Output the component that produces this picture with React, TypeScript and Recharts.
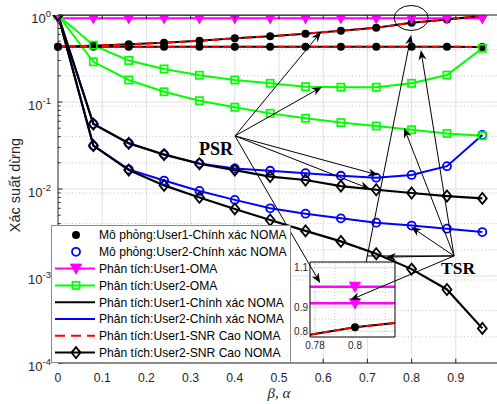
import React from 'react';
import { LineChart, Line, XAxis, YAxis, CartesianGrid, ReferenceLine, ReferenceDot } from 'recharts';

// beta / alpha
const xVals = [0, 0.08, 0.16, 0.24, 0.32, 0.4, 0.48, 0.56, 0.64, 0.72, 0.8, 0.88, 0.96];

// user 1 NOMA (exact and high-SNR coincide)
const nomaU1Psr = [0.432, 0.444, 0.46, 0.48, 0.506, 0.54, 0.57, 0.61, 0.66, 0.715, 0.816, 0.89, 0.98];
const nomaU1Tsr = [0.432, 0.432, 0.432, 0.432, 0.432, 0.432, 0.432, 0.432, 0.432, 0.432, 0.432, 0.432, 0.428];
// user 2 NOMA exact
const exactU2Psr = [1, 0.056, 0.0335, 0.025, 0.0197, 0.0172, 0.0162, 0.0152, 0.0142, 0.0135, 0.0145, 0.0183, 0.0418];
const exactU2Tsr = [1, 0.0315, 0.0168, 0.0125, 0.0095, 0.0075, 0.006, 0.0052, 0.0046, 0.0041, 0.0038, 0.0035, 0.0032];
// user 2 NOMA high SNR
const hiU2Psr = [1, 0.0558, 0.0335, 0.0248, 0.0195, 0.0165, 0.0139, 0.0127, 0.0108, 0.0098, 0.009, 0.0083, 0.0078];
const hiU2Tsr = [1, 0.0315, 0.0165, 0.011, 0.008, 0.0059, 0.0044, 0.0033, 0.0025, 0.0018, 0.0012, 0.0007, 0.00025];
// OMA
const omaU1Psr = [1, 1, 1, 1, 1, 1, 1, 1, 1, 1, 1, 1, 1];
const omaU1Tsr = [0.92, 0.92, 0.92, 0.92, 0.92, 0.92, 0.92, 0.92, 0.92, 0.92, 0.92, 0.92, 0.92];
const omaU2Psr = [1, 0.45, 0.3, 0.24, 0.203, 0.179, 0.164, 0.15, 0.148, 0.148, 0.164, 0.204, 0.414];
const omaU2Tsr = [1, 0.29, 0.179, 0.131, 0.1035, 0.087, 0.074, 0.065, 0.058, 0.053, 0.048, 0.0435, 0.041];

const xTicks = [0, 0.1, 0.2, 0.3, 0.4, 0.5, 0.6, 0.7, 0.8, 0.9, 1];
const yTicks = [1e-4, 1e-3, 1e-2, 1e-1, 1];
const yMinor = [1e-4, 1e-3, 1e-2, 1e-1].flatMap((d) => [2, 3, 4, 5, 6, 7, 8, 9].map((m) => m * d));

const insetXTicks = [0.78, 0.8];
const insetYTicks = [0.8, 0.9, 1, 1.1];

// annotation anchors (data coords)
const psrOrigin = { x: 0.4005, y: 0.0407 };
const psrTargets = [
  { x: 0.595, y: 0.638 },
  { x: 0.597, y: 0.149 },
  { x: 0.724, y: 0.0145 },
  { x: 0.706, y: 0.01 },
  { x: 0.593, y: 0.00083 },
];
const tsrOrigin = { x: 0.896, y: 0.0017 };
const tsrTargets = [
  { x: 0.821, y: 0.396 },
  { x: 0.783, y: 0.0503 },
  { x: 0.799, y: 0.00366 },
  { x: 0.742, y: 0.00165 },
  { x: 0.661, y: 0.00053 },
];

const rows = xVals.map((x, i) => ({
  x,
  u1Psr: nomaU1Psr[i],
  u1Tsr: nomaU1Tsr[i],
  u2Psr: exactU2Psr[i],
  u2Tsr: exactU2Tsr[i],
  hi2Psr: hiU2Psr[i],
  hi2Tsr: hiU2Tsr[i],
  oma1Psr: omaU1Psr[i],
  oma1Tsr: omaU1Tsr[i],
  oma2Psr: omaU2Psr[i],
  oma2Tsr: omaU2Tsr[i],
}));

const MAG = '#ff00ff';
const GRN = '#00ff00';
const BLU = '#0000ff';
const RED = '#ff0000';
const AX = '#262626';

type Mk = 'dot' | 'circle' | 'tri' | 'square' | 'diamond';

const marker = (kind: Mk, cx: number, cy: number, color: string, key?: string) => {
  switch (kind) {
    case 'dot':
      return <circle key={key} cx={cx} cy={cy} r={4} fill="#000" />;
    case 'circle':
      return <circle key={key} cx={cx} cy={cy} r={4} fill="none" stroke={color} strokeWidth={1.8} />;
    case 'tri':
      return <path key={key} d={`M${cx - 5.5},${cy - 4.5}L${cx + 5.5},${cy - 4.5}L${cx},${cy + 5.5}Z`} fill={color} stroke={color} strokeWidth={1} />;
    case 'square':
      return <rect key={key} x={cx - 3.6} y={cy - 3.6} width={7.2} height={7.2} fill="none" stroke={color} strokeWidth={1.7} />;
    case 'diamond':
      return <path key={key} d={`M${cx},${cy - 5.5}L${cx + 4.5},${cy}L${cx},${cy + 5.5}L${cx - 4.5},${cy}Z`} fill="none" stroke="#000" strokeWidth={1.8} />;
  }
  return null;
};

const dotOf = (kind: Mk, color: string) => (p: any) => {
  if (p.cx == null || p.cy == null) return <g key={`e-${p.index}`} />;
  return marker(kind, p.cx, p.cy, color, `m-${p.index}`);
};

const base = { type: 'linear' as const, isAnimationActive: false, activeDot: false, legendType: 'none' as const };

const YPowTick = (p: any) => {
  const e = Math.round(Math.log10(p.payload.value));
  return (
    <text x={p.x - 7} y={p.y + 7.5} textAnchor="end" fill={AX} fontSize={13}>
      10<tspan dy={-6} fontSize={9.5}>{e}</tspan>
    </text>
  );
};

const XNumTick = (p: any) => (
  <text x={p.x} y={p.y + 18.5} textAnchor="middle" fill={AX} fontSize={12.2}>
    {p.payload.value}
  </text>
);

const MainChart = () => (
  <LineChart width={510} height={404} data={rows} margin={{ top: 15, right: 10, bottom: 0, left: 0 }}>
    <CartesianGrid stroke="#e0e0e0" horizontalValues={yTicks} verticalValues={[0.1, 0.2, 0.3, 0.4, 0.5, 0.6, 0.7, 0.8, 0.9]} />
    <CartesianGrid stroke="#c4c4c4" strokeDasharray="1 2.5" horizontalValues={yMinor} vertical={false} />
    <XAxis
      type="number"
      dataKey="x"
      domain={[0, 1]}
      ticks={xTicks}
      height={41}
      tickSize={0}
      tickMargin={0}
      tick={XNumTick}
      axisLine={{ stroke: AX }}
      label={(props: any) => {
        const vb = props.viewBox;
        return (
          <text x={vb.x + vb.width / 2} y={vb.y + 35} textAnchor="middle" fill={AX} fontSize={15} fontStyle="italic" fontFamily='"Liberation Serif", "Times New Roman", serif'>
            β, α
          </text>
        );
      }}
    />
    <YAxis
      scale="log"
      domain={[1e-4, 1]}
      allowDataOverflow
      ticks={yTicks}
      width={58}
      tickSize={0}
      tickMargin={0}
      tick={YPowTick}
      axisLine={{ stroke: AX }}
      label={(props: any) => {
        const vb = props.viewBox;
        const cx = vb.x + 15;
        const cy = vb.y + vb.height / 2 - 4;
        return (
          <text x={cx} y={cy} transform={`rotate(-90 ${cx} ${cy})`} textAnchor="middle" dominantBaseline="central" fill={AX} fontSize={14.5}>
            Xác suất dừng
          </text>
        );
      }}
    />
    {/* simulation markers */}
    <Line {...base} dataKey="u1Psr" stroke="none" dot={dotOf('dot', '#000')} />
    <Line {...base} dataKey="u1Tsr" stroke="none" dot={dotOf('dot', '#000')} />
    <Line {...base} dataKey="u2Psr" stroke="none" dot={dotOf('circle', BLU)} />
    <Line {...base} dataKey="u2Tsr" stroke="none" dot={dotOf('circle', BLU)} />
    {/* OMA */}
    <Line {...base} dataKey="oma1Psr" stroke={MAG} strokeWidth={2} dot={dotOf('tri', MAG)} />
    <Line {...base} dataKey="oma1Tsr" stroke={MAG} strokeWidth={2} dot={dotOf('tri', MAG)} />
    <Line {...base} dataKey="oma2Psr" stroke={GRN} strokeWidth={2} dot={dotOf('square', GRN)} />
    <Line {...base} dataKey="oma2Tsr" stroke={GRN} strokeWidth={2} dot={dotOf('square', GRN)} />
    {/* exact NOMA */}
    <Line {...base} dataKey="u1Psr" stroke="#000" strokeWidth={2} dot={false} />
    <Line {...base} dataKey="u1Tsr" stroke="#000" strokeWidth={2} dot={false} />
    <Line {...base} dataKey="u2Psr" stroke={BLU} strokeWidth={2} dot={false} />
    <Line {...base} dataKey="u2Tsr" stroke={BLU} strokeWidth={2} dot={false} />
    {/* high SNR */}
    <Line {...base} dataKey="u1Psr" stroke={RED} strokeWidth={2} strokeDasharray="7 4" dot={false} />
    <Line {...base} dataKey="u1Tsr" stroke={RED} strokeWidth={2} strokeDasharray="7 4" dot={false} />
    <Line {...base} dataKey="hi2Psr" stroke="#000" strokeWidth={2.2} dot={dotOf('diamond', '#000')} />
    <Line {...base} dataKey="hi2Tsr" stroke="#000" strokeWidth={2.2} dot={dotOf('diamond', '#000')} />
  </LineChart>
);

const InsetYTick = (p: any) => (
  <text x={p.x - 2} y={p.y + 3.5} textAnchor="end" fill={AX} fontSize={10}>
    {p.payload.value}
  </text>
);
const InsetXTick = (p: any) => (
  <text x={p.x} y={p.y + 12} textAnchor="middle" fill={AX} fontSize={10}>
    {p.payload.value}
  </text>
);

const InsetChart = () => (
  <LineChart width={120} height={100} data={rows} margin={{ top: 10, right: 5, bottom: 0, left: 0 }}>
    <CartesianGrid fill="#fff" stroke="#dcdcdc" horizontalValues={insetYTicks} verticalValues={insetXTicks} />
    <CartesianGrid
      stroke="#c8c8c8"
      strokeDasharray="1 2"
      horizontalValues={[0.825, 0.85, 0.875, 0.925, 0.95, 0.975, 1.025, 1.05, 1.075, 1.125]}
      verticalValues={[0.785, 0.79, 0.795, 0.805, 0.81, 0.815]}
    />
    <XAxis type="number" dataKey="x" domain={[0.7775, 0.82]} allowDataOverflow ticks={insetXTicks} height={15} tickSize={0} tickMargin={0} tick={InsetXTick} axisLine={{ stroke: '#000' }} />
    <YAxis scale="log" domain={[0.777, 1.132]} allowDataOverflow ticks={insetYTicks} width={30} tickSize={0} tickMargin={0} tick={InsetYTick} axisLine={{ stroke: '#000' }} />
    <Line {...base} dataKey="u1Psr" stroke="none" dot={dotOf('dot', '#000')} />
    <Line {...base} dataKey="oma1Psr" stroke={MAG} strokeWidth={2.5} dot={dotOf('tri', MAG)} />
    <Line {...base} dataKey="oma1Tsr" stroke={MAG} strokeWidth={2.5} dot={dotOf('tri', MAG)} />
    <Line {...base} dataKey="u1Psr" stroke="#000" strokeWidth={2} dot={false} />
    <Line {...base} dataKey="u1Psr" stroke={RED} strokeWidth={2} strokeDasharray="7 4" dot={false} />
    <ReferenceLine y={1.132} stroke="#000" strokeWidth={1} ifOverflow="visible" />
    <ReferenceLine x={0.82} stroke="#000" strokeWidth={1} ifOverflow="visible" />
  </LineChart>
);

const ArrowShape = (p: any) => {
  const { x1, y1, x2, y2 } = p;
  if ([x1, y1, x2, y2].some((v) => v == null || isNaN(v))) return <g />;
  const a = Math.atan2(y2 - y1, x2 - x1);
  const c = Math.cos(a);
  const s = Math.sin(a);
  const L = 10;
  const W = 4;
  const N = 7;
  const bx = x2 - L * c;
  const by = y2 - L * s;
  const nx = x2 - N * c;
  const ny = y2 - N * s;
  const d = `M${x2},${y2}L${bx - W * s},${by + W * c}L${nx},${ny}L${bx + W * s},${by - W * c}Z`;
  return (
    <g>
      <line x1={x1} y1={y1} x2={nx} y2={ny} stroke="#000" strokeWidth={1} />
      <path d={d} fill="#000" />
    </g>
  );
};

const PlainShape = (p: any) => <line x1={p.x1} y1={p.y1} x2={p.x2} y2={p.y2} stroke="#000" strokeWidth={1} />;

const label = (txt: string, size: number) => (p: any) => (
  <text x={p.cx} y={p.cy} fill="#000" fontSize={size} fontWeight="bold" fontFamily='"Liberation Serif", "Times New Roman", serif'>
    {txt}
  </text>
);

const tickLenX = 4.4 / 442;
const tickLenXMinor = 2.6 / 442;
const tickFac = Math.pow(10, 4.4 / 87);
const vis = 'visible' as const;

const Overlay = () => (
  <LineChart width={510} height={404} data={rows} margin={{ top: 15, right: 10, bottom: 0, left: 0 }}>
    <XAxis type="number" dataKey="x" domain={[0, 1]} ticks={xTicks} height={41} tick={false} tickLine={false} axisLine={false} />
    <YAxis scale="log" domain={[1e-4, 1]} allowDataOverflow ticks={yTicks} width={58} tick={false} tickLine={false} axisLine={false} />
    <Line {...base} dataKey="u1Tsr" stroke="none" dot={false} />
    {/* box + inward ticks */}
    <ReferenceLine y={1} stroke={AX} strokeWidth={1} ifOverflow={vis} />
    <ReferenceLine x={1} stroke={AX} strokeWidth={1} ifOverflow={vis} />
    {xTicks.slice(1, -1).map((t) => (
      <ReferenceLine key={`bt${t}`} ifOverflow={vis} segment={[{ x: t, y: 1e-4 }, { x: t, y: 1e-4 * tickFac }]} stroke={AX} strokeWidth={1} />
    ))}
    {xTicks.slice(1, -1).map((t) => (
      <ReferenceLine key={`tt${t}`} ifOverflow={vis} segment={[{ x: t, y: 1 }, { x: t, y: 1 / tickFac }]} stroke={AX} strokeWidth={1} />
    ))}
    {yTicks.map((t) => (
      <ReferenceLine key={`yt${t}`} ifOverflow={vis} segment={[{ x: 0, y: t }, { x: tickLenX, y: t }]} stroke={AX} strokeWidth={1} />
    ))}
    {yMinor.map((t) => (
      <ReferenceLine key={`ym${t}`} ifOverflow={vis} segment={[{ x: 0, y: t }, { x: tickLenXMinor, y: t }]} stroke={AX} strokeWidth={1} />
    ))}
    {/* PSR arrows */}
    {psrTargets.map((t, i) => (
      <ReferenceLine key={`pa${i}`} ifOverflow={vis} segment={[psrOrigin, t]} stroke="#000" shape={ArrowShape} />
    ))}
    {/* TSR arrows */}
    {tsrTargets.map((t, i) => (
      <ReferenceLine key={`ta${i}`} ifOverflow={vis} segment={[tsrOrigin, t]} stroke="#000" shape={ArrowShape} />
    ))}
    <ReferenceLine ifOverflow={vis} segment={[tsrOrigin, { x: 0.699, y: 0.0017 }]} stroke="#000" shape={PlainShape} />
    {/* inset -> zoom ellipse */}
    <ReferenceLine ifOverflow={vis} segment={[{ x: 0.697, y: 0.00145 }, { x: 0.799, y: 0.589 }]} stroke="#000" shape={ArrowShape} />
    <ReferenceDot
      x={0.799}
      y={0.924}
      r={1}
      ifOverflow={vis}
      shape={(p: any) => <ellipse cx={p.cx} cy={p.cy} rx={17} ry={12.5} fill="none" stroke="#000" strokeWidth={1} />}
    />
    <ReferenceDot x={0.319} y={0.0246} r={1} ifOverflow={vis} shape={label('PSR', 18)} />
    <ReferenceDot x={0.8665} y={0.00105} r={1} ifOverflow={vis} shape={label('TSR', 17.5)} />
  </LineChart>
);

const legendItems: { label: string; marker: Mk | null; color: string; line: 'solid' | 'dash' | null }[] = [
  { label: 'Mô phỏng:User1-Chính xác NOMA', marker: 'dot', color: '#000', line: null },
  { label: 'Mô phỏng:User2-Chính xác NOMA', marker: 'circle', color: BLU, line: null },
  { label: 'Phân tích:User1-OMA', marker: 'tri', color: MAG, line: 'solid' },
  { label: 'Phân tích:User2-OMA', marker: 'square', color: GRN, line: 'solid' },
  { label: 'Phân tích:User1-Chính xác NOMA', marker: null, color: '#000', line: 'solid' },
  { label: 'Phân tích:User2-Chính xác NOMA', marker: null, color: BLU, line: 'solid' },
  { label: 'Phân tích:User1-SNR Cao NOMA', marker: null, color: RED, line: 'dash' },
  { label: 'Phân tích:User2-SNR Cao NOMA', marker: 'diamond', color: '#000', line: 'solid' },
];

const LegendBox = () => (
  <div style={{ position: 'absolute', left: 51, top: 225, width: 238, height: 136, border: '1px solid #8a8a8a', background: '#fff' }}>
    <svg width={238} height={136}>
      {legendItems.map((it, i) => {
        const cy = 9 + i * 16.8;
        return (
          <g key={it.label}>
            {it.line && (
              <line x1={3} x2={43} y1={cy} y2={cy} stroke={it.color} strokeWidth={2} strokeDasharray={it.line === 'dash' ? '10 6' : undefined} />
            )}
            {it.marker && marker(it.marker, 24, cy, it.color)}
            <text x={47} y={cy + 4.3} fontSize={12.1} fill="#000">
              {it.label}
            </text>
          </g>
        );
      })}
    </svg>
  </div>
);

const App: React.FC = () => (
  <div
    style={{
      position: 'absolute',
      left: 0,
      top: 0,
      width: 497,
      height: 404,
      overflow: 'hidden',
      background: '#fff',
      fontFamily: '"Liberation Sans", Arial, sans-serif',
    }}
  >
    <div style={{ position: 'absolute', left: 0, top: 0 }}>
      <MainChart />
    </div>
    <div style={{ position: 'absolute', left: 280, top: 252 }}>
      <InsetChart />
    </div>
    <div style={{ position: 'absolute', left: 0, top: 0 }}>
      <Overlay />
    </div>
    <LegendBox />
  </div>
);

export default App;
